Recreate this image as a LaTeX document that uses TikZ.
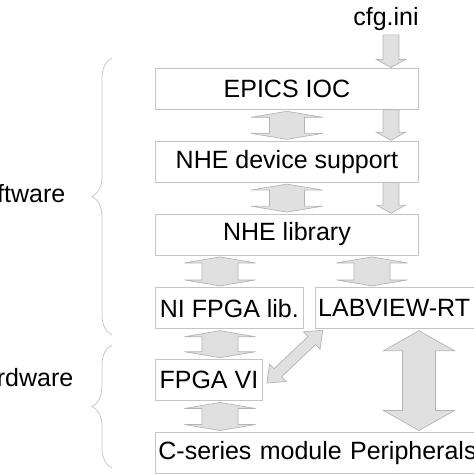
\documentclass[tikz,border=0pt]{standalone}
\usepackage{fontspec}
\setmainfont{Liberation Sans}
\usetikzlibrary{positioning,calc,decorations.pathreplacing}

\definecolor{boxline}{HTML}{C4C4C4}
\definecolor{arrowline}{HTML}{B4B4B4}
\definecolor{arrowfill}{HTML}{E0E0E0}
\definecolor{braceline}{HTML}{C8C8C8}

\tikzset{
  lbl/.style={inner sep=4.5pt, font=\fontsize{25}{30}\selectfont},
  box/.style={draw=boxline, line width=0.8pt, fill=white, minimum height=41pt,
    inner sep=3pt, font=\fontsize{25}{30}\selectfont},
  % fat double arrow: shaft half width, head half width, head length
  fat/.style n args={3}{draw=arrowline, fill=arrowfill, line width=0.7pt, line join=miter,
    to path={
      ($(\tikztostart)!1.5pt!(\tikztotarget)$)
      -- ($(\tikztostart)!{#3+1.5pt}!(\tikztotarget)!#2!90:(\tikztotarget)$)
      -- ($(\tikztostart)!{#3+1.5pt}!(\tikztotarget)!#1!90:(\tikztotarget)$)
      -- ($(\tikztotarget)!{#3+1.5pt}!(\tikztostart)!#1!-90:(\tikztostart)$)
      -- ($(\tikztotarget)!{#3+1.5pt}!(\tikztostart)!#2!-90:(\tikztostart)$)
      -- ($(\tikztotarget)!1.5pt!(\tikztostart)$)
      -- ($(\tikztotarget)!{#3+1.5pt}!(\tikztostart)!#2!90:(\tikztostart)$)
      -- ($(\tikztotarget)!{#3+1.5pt}!(\tikztostart)!#1!90:(\tikztostart)$)
      -- ($(\tikztostart)!{#3+1.5pt}!(\tikztotarget)!#1!-90:(\tikztotarget)$)
      -- ($(\tikztostart)!{#3+1.5pt}!(\tikztotarget)!#2!-90:(\tikztotarget)$)
      -- cycle}},
  % fat single arrow, head at the target
  fatone/.style n args={3}{draw=arrowline, fill=arrowfill, line width=0.7pt, line join=miter,
    to path={
      ($(\tikztostart)!#1!90:(\tikztotarget)$)
      -- ($(\tikztotarget)!{#3+0.5pt}!(\tikztostart)!#1!-90:(\tikztostart)$)
      -- ($(\tikztotarget)!{#3+0.5pt}!(\tikztostart)!#2!-90:(\tikztostart)$)
      -- ($(\tikztotarget)!0.5pt!(\tikztostart)$)
      -- ($(\tikztotarget)!{#3+0.5pt}!(\tikztostart)!#2!90:(\tikztostart)$)
      -- ($(\tikztotarget)!{#3+0.5pt}!(\tikztostart)!#1!90:(\tikztostart)$)
      -- ($(\tikztostart)!#1!-90:(\tikztotarget)$)
      -- cycle}},
  brace/.style={draw=braceline, line width=0.8pt, decorate, decoration={brace, amplitude=20pt}}
}

\begin{document}
\begin{tikzpicture}[x=1pt, y=-1pt]
  \useasboundingbox (0,0) rectangle (474,474);

  \node[lbl, anchor=base] (cfg) at (386,25) {cfg.ini};

  \node[box, minimum width=263pt, anchor=north west] (ioc) at (155,68) {EPICS IOC};
  \node[box, minimum width=263pt, below=31pt of ioc] (dev) {NHE device support};
  \node[box, minimum width=263pt, below=31pt of dev] (lib) {NHE library};
  \node[box, minimum width=148pt, below=32pt of lib.south west, anchor=north west] (nifpga) {NI FPGA lib.};
  \node[box, text width=165pt, align=left, right=11pt of nifpga] (labview) {LABVIEW-RT};
  \node[box, minimum width=107pt, below=30pt of nifpga.south west, anchor=north west] (fpgavi) {FPGA VI};
  \node[box, text width=330pt, align=left, below=31pt of fpgavi.south west, anchor=north west] (cseries) {C-series module Peripherals};

  \node[lbl, anchor=base east] (sw) at (70,202) {Software};
  \node[lbl, anchor=base east] (hw) at (78,386) {Hardware};

  \coordinate (cfgx) at (391,0);
  \coordinate (nix) at (220,0);
  \coordinate (rtx) at (372,0);
  \coordinate (bigx) at (419,0);

  \draw[fatone={8pt}{14.5pt}{8pt}] (cfg.south -| cfgx) to (ioc.north -| cfgx);
  \draw[fatone={8pt}{14.5pt}{8pt}] (ioc.south -| cfgx) to (dev.north -| cfgx);
  \draw[fatone={8pt}{14.5pt}{8pt}] (dev.south -| cfgx) to (lib.north -| cfgx);

  \draw[fat={17.5pt}{36pt}{6pt}] (ioc.south) to (dev.north);
  \draw[fat={17.5pt}{36pt}{6pt}] (dev.south) to (lib.north);
  \draw[fat={18pt}{35.5pt}{6pt}] (lib.south -| nix) to (nifpga.north -| nix);
  \draw[fat={18pt}{35.5pt}{6pt}] (lib.south -| rtx) to (labview.north -| rtx);
  \draw[fat={18pt}{35.5pt}{6pt}] (nifpga.south -| nix) to (fpgavi.north -| nix);
  \draw[fat={18pt}{35.5pt}{6pt}] (fpgavi.south -| nix) to (cseries.north -| nix);
  \draw[fat={16.5pt}{35.5pt}{20pt}] (labview.south -| bigx) to (cseries.north -| bigx);
  \draw[fat={5.5pt}{12pt}{15pt}] ([shift={(3pt,-4pt)}]fpgavi.east) to ([xshift=9pt]labview.south west);

  \draw[brace] (112,335) -- (112,58);
  \draw[brace] (112,468) -- (112,345);
\end{tikzpicture}
\end{document}
